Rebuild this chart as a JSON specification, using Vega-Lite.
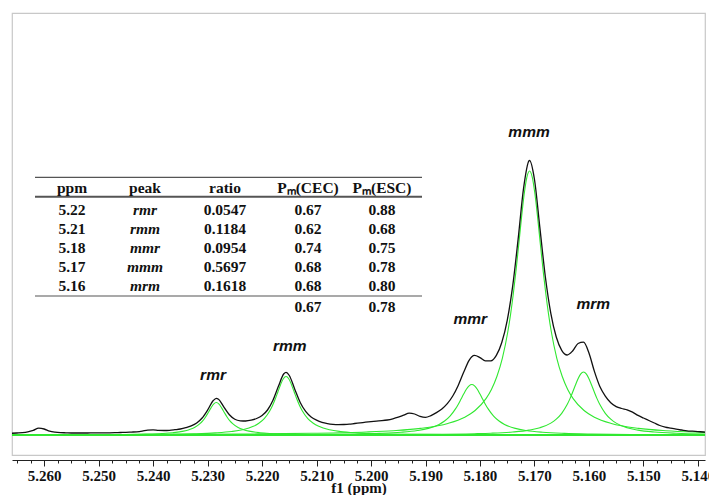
{
  "$schema": "https://vega.github.io/schema/vega-lite/v6.json",
  "width": 693,
  "height": 442,
  "autosize": {"type": "none"},
  "padding": {"left": 12, "top": 13, "right": 4, "bottom": 40},
  "background": "white",
  "config": {
    "view": {"stroke": "#c8c8c8", "strokeWidth": 1.2},
    "axis": {
      "labelFont": "Liberation Serif", "labelFontWeight": "bold", "labelFontSize": 15, "labelColor": "#111",
      "titleFont": "Liberation Serif", "titleFontWeight": "bold", "titleFontSize": 15, "titleColor": "#111",
      "domainColor": "#222", "tickColor": "#222", "grid": false
    }
  },
  "datasets": {
    "spectrum": [
      {"s":"rmr","ppm":5.2659,"v":0.11},{"s":"rmr","ppm":5.2534,"v":0.25},{"s":"rmr","ppm":5.2459,"v":0.51},{"s":"rmr","ppm":5.2414,"v":0.91},{"s":"rmr","ppm":5.2384,"v":1.5},{"s":"rmr","ppm":5.2364,"v":2.29},{"s":"rmr","ppm":5.2344,"v":3.85},{"s":"rmr","ppm":5.2334,"v":5.3},{"s":"rmr","ppm":5.2324,"v":7.5},{"s":"rmr","ppm":5.2314,"v":11.4},{"s":"rmr","ppm":5.2309,"v":14.2},{"s":"rmr","ppm":5.2304,"v":17.8},{"s":"rmr","ppm":5.2299,"v":22.2},{"s":"rmr","ppm":5.2294,"v":26.9},{"s":"rmr","ppm":5.2289,"v":30.9},{"s":"rmr","ppm":5.2284,"v":32.5},{"s":"rmr","ppm":5.2279,"v":30.9},{"s":"rmr","ppm":5.2274,"v":26.9},{"s":"rmr","ppm":5.2269,"v":22.2},{"s":"rmr","ppm":5.2264,"v":17.8},{"s":"rmr","ppm":5.2259,"v":14.2},{"s":"rmr","ppm":5.2254,"v":11.4},{"s":"rmr","ppm":5.2244,"v":7.5},{"s":"rmr","ppm":5.2234,"v":5.3},{"s":"rmr","ppm":5.2224,"v":3.85},{"s":"rmr","ppm":5.2204,"v":2.29},{"s":"rmr","ppm":5.2184,"v":1.5},{"s":"rmr","ppm":5.2154,"v":0.91},{"s":"rmr","ppm":5.2109,"v":0.51},{"s":"rmr","ppm":5.2034,"v":0.25},{"s":"rmr","ppm":5.1884,"v":0.1},{"s":"rmr","ppm":5.1684,"v":0.04},{"s":"rmr","ppm":5.1387,"v":0.02},

      {"s":"rmm","ppm":5.2659,"v":0.14},{"s":"rmm","ppm":5.2456,"v":0.4},{"s":"rmm","ppm":5.2376,"v":0.75},{"s":"rmm","ppm":5.2326,"v":1.24},{"s":"rmm","ppm":5.2286,"v":2.09},{"s":"rmm","ppm":5.2256,"v":3.44},{"s":"rmm","ppm":5.2236,"v":5.2},{"s":"rmm","ppm":5.2216,"v":8.65},{"s":"rmm","ppm":5.2206,"v":11.7},{"s":"rmm","ppm":5.2196,"v":16.4},{"s":"rmm","ppm":5.2186,"v":24.0},{"s":"rmm","ppm":5.2181,"v":29.25},{"s":"rmm","ppm":5.2176,"v":35.7},{"s":"rmm","ppm":5.2171,"v":43.0},{"s":"rmm","ppm":5.2166,"v":50.4},{"s":"rmm","ppm":5.2161,"v":56.3},{"s":"rmm","ppm":5.2156,"v":58.5},{"s":"rmm","ppm":5.2151,"v":56.3},{"s":"rmm","ppm":5.2146,"v":50.4},{"s":"rmm","ppm":5.2141,"v":43.0},{"s":"rmm","ppm":5.2136,"v":35.7},{"s":"rmm","ppm":5.2131,"v":29.25},{"s":"rmm","ppm":5.2126,"v":24.0},{"s":"rmm","ppm":5.2116,"v":16.4},{"s":"rmm","ppm":5.2106,"v":11.7},{"s":"rmm","ppm":5.2096,"v":8.65},{"s":"rmm","ppm":5.2076,"v":5.2},{"s":"rmm","ppm":5.2056,"v":3.44},{"s":"rmm","ppm":5.2026,"v":2.09},{"s":"rmm","ppm":5.1986,"v":1.24},{"s":"rmm","ppm":5.1936,"v":0.75},{"s":"rmm","ppm":5.1856,"v":0.4},{"s":"rmm","ppm":5.1706,"v":0.18},{"s":"rmm","ppm":5.1556,"v":0.1},{"s":"rmm","ppm":5.1387,"v":0.06},

      {"s":"mmr","ppm":5.2659,"v":0.07},{"s":"mmr","ppm":5.2415,"v":0.13},{"s":"mmr","ppm":5.2215,"v":0.3},{"s":"mmr","ppm":5.2115,"v":0.53},{"s":"mmr","ppm":5.2035,"v":0.98},{"s":"mmr","ppm":5.1985,"v":1.63},{"s":"mmr","ppm":5.1945,"v":2.72},{"s":"mmr","ppm":5.1915,"v":4.43},{"s":"mmr","ppm":5.1895,"v":6.6},{"s":"mmr","ppm":5.1875,"v":10.6},{"s":"mmr","ppm":5.1865,"v":14.0},{"s":"mmr","ppm":5.1855,"v":18.9},{"s":"mmr","ppm":5.1845,"v":26.1},{"s":"mmr","ppm":5.184,"v":30.6},{"s":"mmr","ppm":5.1835,"v":35.7},{"s":"mmr","ppm":5.183,"v":40.9},{"s":"mmr","ppm":5.1825,"v":45.7},{"s":"mmr","ppm":5.182,"v":49.2},{"s":"mmr","ppm":5.1815,"v":50.5},{"s":"mmr","ppm":5.181,"v":49.2},{"s":"mmr","ppm":5.1805,"v":45.7},{"s":"mmr","ppm":5.18,"v":40.9},{"s":"mmr","ppm":5.1795,"v":35.7},{"s":"mmr","ppm":5.179,"v":30.6},{"s":"mmr","ppm":5.1785,"v":26.1},{"s":"mmr","ppm":5.1775,"v":18.9},{"s":"mmr","ppm":5.1765,"v":14.0},{"s":"mmr","ppm":5.1755,"v":10.6},{"s":"mmr","ppm":5.1735,"v":6.6},{"s":"mmr","ppm":5.1715,"v":4.43},{"s":"mmr","ppm":5.1685,"v":2.72},{"s":"mmr","ppm":5.1645,"v":1.63},{"s":"mmr","ppm":5.1595,"v":0.98},{"s":"mmr","ppm":5.1515,"v":0.53},{"s":"mmr","ppm":5.1387,"v":0.26},

      {"s":"mmm","ppm":5.2659,"v":0.3},{"s":"mmm","ppm":5.2509,"v":0.42},{"s":"mmm","ppm":5.2359,"v":0.64},{"s":"mmm","ppm":5.2209,"v":1.08},{"s":"mmm","ppm":5.2109,"v":1.68},{"s":"mmm","ppm":5.2009,"v":2.97},{"s":"mmm","ppm":5.1959,"v":4.26},{"s":"mmm","ppm":5.1909,"v":6.6},{"s":"mmm","ppm":5.1859,"v":11.5},{"s":"mmm","ppm":5.1829,"v":17.5},{"s":"mmm","ppm":5.1809,"v":24.5},{"s":"mmm","ppm":5.1789,"v":36.4},{"s":"mmm","ppm":5.1779,"v":45.6},{"s":"mmm","ppm":5.1769,"v":58.5},{"s":"mmm","ppm":5.1759,"v":76.7},{"s":"mmm","ppm":5.1749,"v":103.0},{"s":"mmm","ppm":5.1744,"v":120.2},{"s":"mmm","ppm":5.1739,"v":140.5},{"s":"mmm","ppm":5.1734,"v":163.9},{"s":"mmm","ppm":5.1729,"v":189.8},{"s":"mmm","ppm":5.1724,"v":216.4},{"s":"mmm","ppm":5.1719,"v":240.5},{"s":"mmm","ppm":5.1714,"v":257.7},{"s":"mmm","ppm":5.1709,"v":264},{"s":"mmm","ppm":5.1704,"v":257.7},{"s":"mmm","ppm":5.1699,"v":240.5},{"s":"mmm","ppm":5.1694,"v":216.4},{"s":"mmm","ppm":5.1689,"v":189.8},{"s":"mmm","ppm":5.1684,"v":163.9},{"s":"mmm","ppm":5.1679,"v":140.5},{"s":"mmm","ppm":5.1674,"v":120.2},{"s":"mmm","ppm":5.1669,"v":103.0},{"s":"mmm","ppm":5.1659,"v":76.7},{"s":"mmm","ppm":5.1649,"v":58.5},{"s":"mmm","ppm":5.1639,"v":45.6},{"s":"mmm","ppm":5.1629,"v":36.4},{"s":"mmm","ppm":5.1609,"v":24.5},{"s":"mmm","ppm":5.1589,"v":17.5},{"s":"mmm","ppm":5.1559,"v":11.5},{"s":"mmm","ppm":5.1509,"v":6.6},{"s":"mmm","ppm":5.1459,"v":4.26},{"s":"mmm","ppm":5.1409,"v":2.97},{"s":"mmm","ppm":5.1387,"v":2.6},

      {"s":"mrm","ppm":5.2659,"v":0.05},{"s":"mrm","ppm":5.241,"v":0.08},{"s":"mrm","ppm":5.221,"v":0.15},{"s":"mrm","ppm":5.201,"v":0.33},{"s":"mrm","ppm":5.191,"v":0.58},{"s":"mrm","ppm":5.181,"v":1.3},{"s":"mrm","ppm":5.178,"v":1.78},{"s":"mrm","ppm":5.174,"v":2.99},{"s":"mrm","ppm":5.171,"v":4.89},{"s":"mrm","ppm":5.169,"v":7.3},{"s":"mrm","ppm":5.167,"v":11.9},{"s":"mrm","ppm":5.166,"v":15.9},{"s":"mrm","ppm":5.165,"v":21.7},{"s":"mrm","ppm":5.164,"v":30.4},{"s":"mrm","ppm":5.1635,"v":36.1},{"s":"mrm","ppm":5.163,"v":42.7},{"s":"mrm","ppm":5.1625,"v":49.7},{"s":"mrm","ppm":5.162,"v":56.3},{"s":"mrm","ppm":5.1615,"v":61.2},{"s":"mrm","ppm":5.161,"v":63},{"s":"mrm","ppm":5.1605,"v":61.2},{"s":"mrm","ppm":5.16,"v":56.3},{"s":"mrm","ppm":5.1595,"v":49.7},{"s":"mrm","ppm":5.159,"v":42.7},{"s":"mrm","ppm":5.1585,"v":36.1},{"s":"mrm","ppm":5.158,"v":30.4},{"s":"mrm","ppm":5.157,"v":21.7},{"s":"mrm","ppm":5.156,"v":15.9},{"s":"mrm","ppm":5.155,"v":11.9},{"s":"mrm","ppm":5.153,"v":7.3},{"s":"mrm","ppm":5.151,"v":4.89},{"s":"mrm","ppm":5.148,"v":2.99},{"s":"mrm","ppm":5.144,"v":1.78},{"s":"mrm","ppm":5.1387,"v":1.05},

      {"s":"baseline","ppm":5.2659,"v":0},{"s":"baseline","ppm":5.1387,"v":0},

      {"s":"total","ppm":5.266,"v":1.7},{"s":"total","ppm":5.265,"v":2.0},{"s":"total","ppm":5.264,"v":2.3},{"s":"total","ppm":5.263,"v":3.1},{"s":"total","ppm":5.262,"v":4.6},{"s":"total","ppm":5.261,"v":6.8},{"s":"total","ppm":5.26,"v":6.0},{"s":"total","ppm":5.259,"v":3.9},{"s":"total","ppm":5.258,"v":2.9},{"s":"total","ppm":5.257,"v":2.4},{"s":"total","ppm":5.256,"v":2.2},{"s":"total","ppm":5.255,"v":2.0},{"s":"total","ppm":5.254,"v":2.0},{"s":"total","ppm":5.253,"v":2.0},{"s":"total","ppm":5.252,"v":2.0},{"s":"total","ppm":5.251,"v":2.1},{"s":"total","ppm":5.25,"v":2.1},{"s":"total","ppm":5.249,"v":2.2},{"s":"total","ppm":5.248,"v":2.2},{"s":"total","ppm":5.247,"v":2.3},{"s":"total","ppm":5.246,"v":2.5},{"s":"total","ppm":5.245,"v":2.6},{"s":"total","ppm":5.244,"v":2.9},{"s":"total","ppm":5.243,"v":3.2},{"s":"total","ppm":5.242,"v":3.9},{"s":"total","ppm":5.241,"v":4.9},{"s":"total","ppm":5.24,"v":5.1},{"s":"total","ppm":5.239,"v":4.6},{"s":"total","ppm":5.238,"v":4.5},{"s":"total","ppm":5.237,"v":4.7},{"s":"total","ppm":5.236,"v":5.3},{"s":"total","ppm":5.235,"v":6.0},{"s":"total","ppm":5.234,"v":7.3},{"s":"total","ppm":5.233,"v":9.1},{"s":"total","ppm":5.232,"v":12.0},{"s":"total","ppm":5.231,"v":17.0},{"s":"total","ppm":5.23,"v":24.9},{"s":"total","ppm":5.229,"v":34.2},{"s":"total","ppm":5.2284,"v":36.7},{"s":"total","ppm":5.228,"v":35.8},{"s":"total","ppm":5.227,"v":27.9},{"s":"total","ppm":5.226,"v":20.2},{"s":"total","ppm":5.225,"v":15.7},{"s":"total","ppm":5.224,"v":14.2},{"s":"total","ppm":5.223,"v":14.0},{"s":"total","ppm":5.222,"v":14.8},{"s":"total","ppm":5.221,"v":16.5},{"s":"total","ppm":5.22,"v":19.5},{"s":"total","ppm":5.219,"v":25.0},{"s":"total","ppm":5.218,"v":34.8},{"s":"total","ppm":5.217,"v":48.7},{"s":"total","ppm":5.216,"v":61.2},{"s":"total","ppm":5.2156,"v":62.6},{"s":"total","ppm":5.215,"v":59.5},{"s":"total","ppm":5.214,"v":45.8},{"s":"total","ppm":5.213,"v":32.5},{"s":"total","ppm":5.212,"v":23.6},{"s":"total","ppm":5.211,"v":18.1},{"s":"total","ppm":5.21,"v":14.8},{"s":"total","ppm":5.209,"v":12.6},{"s":"total","ppm":5.208,"v":11.4},{"s":"total","ppm":5.207,"v":10.7},{"s":"total","ppm":5.206,"v":10.4},{"s":"total","ppm":5.205,"v":10.5},{"s":"total","ppm":5.204,"v":10.8},{"s":"total","ppm":5.203,"v":11.5},{"s":"total","ppm":5.202,"v":12.1},{"s":"total","ppm":5.201,"v":12.8},{"s":"total","ppm":5.2,"v":13.4},{"s":"total","ppm":5.199,"v":13.9},{"s":"total","ppm":5.198,"v":14.3},{"s":"total","ppm":5.197,"v":15.0},{"s":"total","ppm":5.196,"v":16.2},{"s":"total","ppm":5.195,"v":17.8},{"s":"total","ppm":5.194,"v":19.8},{"s":"total","ppm":5.193,"v":21.8},{"s":"total","ppm":5.192,"v":21.0},{"s":"total","ppm":5.191,"v":18.6},{"s":"total","ppm":5.19,"v":17.6},{"s":"total","ppm":5.189,"v":19.4},{"s":"total","ppm":5.188,"v":22.4},{"s":"total","ppm":5.187,"v":26.1},{"s":"total","ppm":5.186,"v":31.4},{"s":"total","ppm":5.185,"v":39.0},{"s":"total","ppm":5.184,"v":49.6},{"s":"total","ppm":5.183,"v":62.7},{"s":"total","ppm":5.182,"v":74.7},{"s":"total","ppm":5.1815,"v":78.3},{"s":"total","ppm":5.181,"v":79.6},{"s":"total","ppm":5.18,"v":77.4},{"s":"total","ppm":5.179,"v":74.2},{"s":"total","ppm":5.178,"v":74.2},{"s":"total","ppm":5.177,"v":79.7},{"s":"total","ppm":5.176,"v":92.5},{"s":"total","ppm":5.175,"v":114.7},{"s":"total","ppm":5.174,"v":148.8},{"s":"total","ppm":5.173,"v":195.9},{"s":"total","ppm":5.172,"v":246.8},{"s":"total","ppm":5.171,"v":274.2},{"s":"total","ppm":5.1709,"v":274.5},{"s":"total","ppm":5.17,"v":255.5},{"s":"total","ppm":5.169,"v":206.9},{"s":"total","ppm":5.168,"v":158.0},{"s":"total","ppm":5.167,"v":121.7},{"s":"total","ppm":5.166,"v":98.0},{"s":"total","ppm":5.165,"v":84.7},{"s":"total","ppm":5.164,"v":80.0},{"s":"total","ppm":5.163,"v":84.0},{"s":"total","ppm":5.162,"v":91.5},{"s":"total","ppm":5.161,"v":92.8},{"s":"total","ppm":5.16,"v":82.0},{"s":"total","ppm":5.159,"v":63.6},{"s":"total","ppm":5.158,"v":48.5},{"s":"total","ppm":5.157,"v":38.9},{"s":"total","ppm":5.156,"v":32.3},{"s":"total","ppm":5.155,"v":28.4},{"s":"total","ppm":5.154,"v":26.5},{"s":"total","ppm":5.153,"v":25.2},{"s":"total","ppm":5.152,"v":22.8},{"s":"total","ppm":5.151,"v":19.6},{"s":"total","ppm":5.15,"v":17.0},{"s":"total","ppm":5.149,"v":14.5},{"s":"total","ppm":5.148,"v":12.0},{"s":"total","ppm":5.147,"v":9.5},{"s":"total","ppm":5.146,"v":7.9},{"s":"total","ppm":5.145,"v":6.8},{"s":"total","ppm":5.144,"v":5.8},{"s":"total","ppm":5.143,"v":5.0},{"s":"total","ppm":5.142,"v":4.2},{"s":"total","ppm":5.141,"v":3.8},{"s":"total","ppm":5.14,"v":3.4},{"s":"total","ppm":5.139,"v":3.0},{"s":"total","ppm":5.138,"v":2.7}
    ],
    "peaks": [
      {"name":"rmr","ppm":5.229,"h":60},
      {"name":"rmm","ppm":5.2149,"h":89},
      {"name":"mmr","ppm":5.1818,"h":116},
      {"name":"mmm","ppm":5.171,"h":303},
      {"name":"mrm","ppm":5.1592,"h":131}
    ],
    "table": [
      {"row":0,"col":0,"t":"ppm"},{"row":0,"col":1,"t":"peak"},{"row":0,"col":2,"t":"ratio"},{"row":0,"col":3,"t":"Pₘ(CEC)"},{"row":0,"col":4,"t":"Pₘ(ESC)"},
      {"row":1,"col":0,"t":"5.22"},{"row":1,"col":1,"t":"rmr"},{"row":1,"col":2,"t":"0.0547"},{"row":1,"col":3,"t":"0.67"},{"row":1,"col":4,"t":"0.88"},
      {"row":2,"col":0,"t":"5.21"},{"row":2,"col":1,"t":"rmm"},{"row":2,"col":2,"t":"0.1184"},{"row":2,"col":3,"t":"0.62"},{"row":2,"col":4,"t":"0.68"},
      {"row":3,"col":0,"t":"5.18"},{"row":3,"col":1,"t":"mmr"},{"row":3,"col":2,"t":"0.0954"},{"row":3,"col":3,"t":"0.74"},{"row":3,"col":4,"t":"0.75"},
      {"row":4,"col":0,"t":"5.17"},{"row":4,"col":1,"t":"mmm"},{"row":4,"col":2,"t":"0.5697"},{"row":4,"col":3,"t":"0.68"},{"row":4,"col":4,"t":"0.78"},
      {"row":5,"col":0,"t":"5.16"},{"row":5,"col":1,"t":"mrm"},{"row":5,"col":2,"t":"0.1618"},{"row":5,"col":3,"t":"0.68"},{"row":5,"col":4,"t":"0.80"},
      {"row":6,"col":3,"t":"0.67"},{"row":6,"col":4,"t":"0.78"}
    ],
    "tableRules": [
      {"row":-0.5},{"row":0.5},{"row":5.5}
    ]
  },
  "layer": [
    {
      "encoding": {
        "x": {
          "field": "ppm", "type": "quantitative",
          "scale": {"domain": [5.1387, 5.2659], "reverse": true, "nice": false, "zero": false},
          "axis": {
            "title": "f1 (ppm)", "offset": 5, "labelPadding": 2, "titlePadding": -3,
            "labelOverlap": false, "labelFlush": false, "labelBound": false,
            "values": [5.14,5.1425,5.145,5.1475,5.15,5.1525,5.155,5.1575,5.16,5.1625,5.165,5.1675,5.17,5.1725,5.175,5.1775,5.18,5.1825,5.185,5.1875,5.19,5.1925,5.195,5.1975,5.2,5.2025,5.205,5.2075,5.21,5.2125,5.215,5.2175,5.22,5.2225,5.225,5.2275,5.23,5.2325,5.235,5.2375,5.24,5.2425,5.245,5.2475,5.25,5.2525,5.255,5.2575,5.26,5.2625,5.265],
            "labelExpr": "abs(datum.value*100 - round(datum.value*100)) < 0.05 ? format(datum.value, '.3f') : ''",
            "tickSize": {"condition": {"test": "abs(datum.value*100 - round(datum.value*100)) < 0.05", "value": 6}, "value": 3}
          }
        },
        "y": {
          "field": "v", "type": "quantitative",
          "scale": {"domain": [-20, 422], "nice": false, "zero": false},
          "axis": null
        }
      },
      "layer": [
        {
          "data": {"name": "spectrum"},
          "transform": [{"filter": "datum.s != 'total' && datum.s != 'baseline'"}],
          "mark": {"type": "line", "interpolate": "monotone", "color": "#30e830", "strokeWidth": 1.1, "clip": true},
          "encoding": {"detail": {"field": "s", "type": "nominal"}}
        },
        {
          "data": {"name": "spectrum"},
          "transform": [{"filter": "datum.s == 'baseline'"}],
          "mark": {"type": "line", "color": "#30e830", "strokeWidth": 2.2, "clip": true},
          "encoding": {}
        },
        {
          "data": {"name": "spectrum"},
          "transform": [{"filter": "datum.s == 'total'"}],
          "mark": {"type": "line", "interpolate": "monotone", "color": "#111111", "strokeWidth": 1.3, "clip": true},
          "encoding": {}
        },
        {
          "data": {"name": "peaks"},
          "mark": {"type": "text", "font": "Liberation Sans", "fontSize": 15.5, "fontWeight": "bold", "fontStyle": "italic", "color": "#111111", "baseline": "middle", "align": "center"},
          "encoding": {
            "y": {"field": "h", "type": "quantitative"},
            "text": {"field": "name", "type": "nominal"}
          }
        }
      ]
    },
    {
      "encoding": {
        "x": {
          "type": "quantitative",
          "scale": {"domain": [-0.5, 0, 1, 2, 3, 4, 4.5], "range": [23, 60, 133, 213, 296, 370, 410], "nice": false, "zero": false},
          "axis": null
        },
        "y": {
          "field": "row", "type": "quantitative",
          "scale": {"domain": [-0.5, 0, 0.5, 1, 5, 5.5, 6], "range": [164.3, 175, 183.7, 197, 273.3, 283, 293.7], "nice": false, "zero": false},
          "axis": null
        }
      },
      "layer": [
        {
          "data": {"name": "tableRules"},
          "mark": {"type": "rule", "color": "#555555"},
          "encoding": {
            "x": {"datum": -0.5, "type": "quantitative"},
            "x2": {"datum": 4.5},
            "strokeWidth": {"condition": {"test": "datum.row == 0.5", "value": 2}, "value": 1.2}
          }
        },
        {
          "data": {"name": "table"},
          "transform": [{"filter": "!(datum.col == 1 && datum.row > 0)"}],
          "mark": {"type": "text", "font": "Liberation Serif", "fontSize": 15.5, "fontWeight": "bold", "color": "#111111", "baseline": "middle", "align": "center"},
          "encoding": {
            "x": {"field": "col", "type": "quantitative"},
            "text": {"field": "t", "type": "nominal"}
          }
        },
        {
          "data": {"name": "table"},
          "transform": [{"filter": "datum.col == 1 && datum.row > 0"}],
          "mark": {"type": "text", "font": "Liberation Serif", "fontSize": 15.5, "fontWeight": "bold", "fontStyle": "italic", "color": "#111111", "baseline": "middle", "align": "center"},
          "encoding": {
            "x": {"field": "col", "type": "quantitative"},
            "text": {"field": "t", "type": "nominal"}
          }
        }
      ]
    }
  ],
  "resolve": {"scale": {"x": "independent", "y": "independent"}}
}
